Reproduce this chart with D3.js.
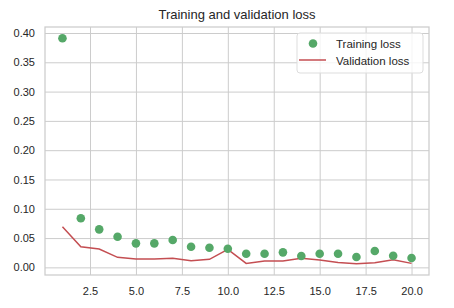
<!DOCTYPE html>
<html>
<head>
<meta charset="utf-8">
<script src="https://cdn.jsdelivr.net/npm/d3@7"></script>
<style>
  body { margin: 0; background: #fff; }
  svg { display: block; font-family: Arial, "Liberation Sans", sans-serif; }
</style>
</head>
<body>
<svg id="chart" width="454" height="308"></svg>
<script>
// data
const epochs = d3.range(1, 21);
const trainingLoss = [0.391, 0.0837, 0.0649, 0.0523, 0.041, 0.041, 0.0466, 0.0352, 0.0335, 0.0318,
  0.0232, 0.0232, 0.0256, 0.0193, 0.0232, 0.0232, 0.0176, 0.0278, 0.0198, 0.0159];
const validationLoss = [0.0693, 0.0352, 0.0312, 0.0171, 0.0142, 0.0142, 0.0154, 0.0113, 0.0137, 0.0307,
  0.0068, 0.0108, 0.0108, 0.0154, 0.0125, 0.0085, 0.0062, 0.0079, 0.013, 0.0068];
const xTicks = [2.5, 5.0, 7.5, 10.0, 12.5, 15.0, 17.5, 20.0];
const yTicks = [0.00, 0.05, 0.10, 0.15, 0.20, 0.25, 0.30, 0.35, 0.40];
const seriesNames = ["Training loss", "Validation loss"];

const width = 454, height = 308;
const margin = { top: 27, right: 25, bottom: 33, left: 45 };
const green = "#55a868", red = "#c44e52", gridColor = "#cccccc", textColor = "#262626";

const svg = d3.select("#chart");

// matplotlib style 5% padding on data range
const xPad = (20 - 1) * 0.05;
const yMin = d3.min(validationLoss), yMax = d3.max(trainingLoss);
const yPad = (yMax - yMin) * 0.05;

const x = d3.scaleLinear()
  .domain([1 - xPad, 20 + xPad])
  .range([margin.left, width - margin.right]);

const y = d3.scaleLinear()
  .domain([yMin - yPad, yMax + yPad])
  .range([height - margin.bottom, margin.top]);

// grid
svg.append("g")
  .attr("transform", "translate(0," + (height - margin.bottom) + ")")
  .call(d3.axisBottom(x).tickValues(xTicks).tickFormat(d3.format(".1f"))
    .tickSize(-(height - margin.top - margin.bottom)).tickPadding(12))
  .call(g => g.select(".domain").remove())
  .call(g => g.selectAll("line").attr("stroke", gridColor).attr("stroke-width", 1))
  .call(g => g.selectAll("text").attr("fill", textColor).style("font-size", "11px"));

svg.append("g")
  .attr("transform", "translate(" + margin.left + ",0)")
  .call(d3.axisLeft(y).tickValues(yTicks).tickFormat(d3.format(".2f"))
    .tickSize(-(width - margin.left - margin.right)).tickPadding(10))
  .call(g => g.select(".domain").remove())
  .call(g => g.selectAll("line").attr("stroke", gridColor).attr("stroke-width", 1))
  .call(g => g.selectAll("text").attr("fill", textColor).style("font-size", "11px"));

// frame
svg.append("rect")
  .attr("x", margin.left)
  .attr("y", margin.top)
  .attr("width", width - margin.left - margin.right)
  .attr("height", height - margin.top - margin.bottom)
  .attr("fill", "none")
  .attr("stroke", gridColor)
  .attr("stroke-width", 1.25);

// validation line
const line = d3.line()
  .x((d, i) => x(epochs[i]))
  .y(d => y(d));

svg.append("path")
  .datum(validationLoss)
  .attr("d", line)
  .attr("fill", "none")
  .attr("stroke", red)
  .attr("stroke-width", 1.5);

// training points
svg.selectAll("circle.train")
  .data(trainingLoss)
  .enter()
  .append("circle")
  .attr("class", "train")
  .attr("cx", (d, i) => x(epochs[i]))
  .attr("cy", d => y(d))
  .attr("r", 4.3)
  .attr("fill", green);

// title
svg.append("text")
  .attr("x", (margin.left + width - margin.right) / 2)
  .attr("y", 19)
  .attr("text-anchor", "middle")
  .style("font-size", "13px")
  .attr("fill", textColor)
  .text("Training and validation loss");

// legend
const legend = svg.append("g").attr("transform", "translate(297,33)");
legend.append("rect")
  .attr("width", 126)
  .attr("height", 40)
  .attr("rx", 3)
  .attr("fill", "#fff")
  .attr("fill-opacity", 0.8)
  .attr("stroke", "#dddddd");
legend.append("circle")
  .attr("cx", 16).attr("cy", 10.5).attr("r", 4.3).attr("fill", green);
legend.append("line")
  .attr("x1", 2).attr("x2", 29).attr("y1", 27).attr("y2", 27)
  .attr("stroke", red).attr("stroke-width", 1.5);
legend.selectAll("text.lbl")
  .data(seriesNames)
  .enter()
  .append("text")
  .attr("class", "lbl")
  .attr("x", 39)
  .attr("y", (d, i) => 14.5 + i * 17)
  .style("font-size", "11.5px")
  .attr("fill", textColor)
  .text(d => d);
</script>
</body>
</html>
